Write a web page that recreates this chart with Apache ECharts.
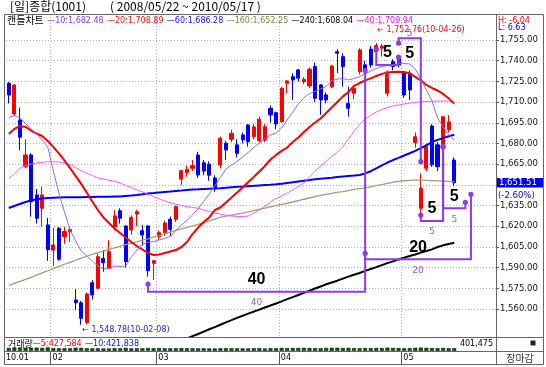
<!DOCTYPE html>
<html><head><meta charset="utf-8">
<script src="https://cdn.jsdelivr.net/npm/echarts@6/dist/echarts.min.js"></script>
<style>html,body{margin:0;padding:0;background:#fff}#c{width:546px;height:367px}</style>
</head><body><div id="c"></div>
<script>
const dates = ['2010-01-20','2010-01-21','2010-01-22','2010-01-25','2010-01-26','2010-01-27','2010-01-28','2010-01-29',
'2010-02-01','2010-02-02','2010-02-03','2010-02-04','2010-02-05','2010-02-08','2010-02-09','2010-02-10','2010-02-11','2010-02-12','2010-02-16','2010-02-17','2010-02-18','2010-02-19','2010-02-22','2010-02-23','2010-02-24','2010-02-25','2010-02-26',
'2010-03-02','2010-03-03','2010-03-04','2010-03-05','2010-03-08','2010-03-09','2010-03-10','2010-03-11','2010-03-12','2010-03-15','2010-03-16','2010-03-17','2010-03-18','2010-03-19','2010-03-22','2010-03-23','2010-03-24','2010-03-25','2010-03-26','2010-03-29','2010-03-30','2010-03-31',
'2010-04-01','2010-04-02','2010-04-05','2010-04-06','2010-04-07','2010-04-08','2010-04-09','2010-04-12','2010-04-13','2010-04-14','2010-04-15','2010-04-16','2010-04-19','2010-04-20','2010-04-21','2010-04-22','2010-04-23','2010-04-26','2010-04-27','2010-04-28','2010-04-29','2010-04-30',
'2010-05-03','2010-05-04','2010-05-06','2010-05-07','2010-05-10','2010-05-11','2010-05-12','2010-05-13','2010-05-14','2010-05-17'];
const futureDates = ['2010-05-18','2010-05-19','2010-05-20','2010-05-24','2010-05-25','2010-05-26','2010-05-27'];

const opens  = [1723.6,1701.4,1697.0,1663.2,1671.7,1642.7,1633.1,1621.0, 1602.7,1618.6,1612.5,1616.1,1566.6,1564.6,1550.2,1579.1,1575.1,1596.8,1589.6,1619.7,1631.3,1620.2,1617.3,1628.9,1616.8,1620.2,1593.2, 1612.5,1615.2,1625.1,1625.1,1654.1,1658.9,1662.0,1671.6,1666.0,1665.0,1655.0,1664.4,1680.2,1683.0,1679.0,1686.2,1693.4,1685.0,1682.0,1682.5,1705.5,1702.3, 1695.8,1723.6,1728.4,1733.3,1724.8,1721.7,1735.7,1722.4,1715.2,1721.2,1746.5,1742.9,1709.1,1716.4,1732.0,1737.0,1748.3,1746.5,1749.0,1716.4,1739.3,1742.9, 1730.9,1730.9,1680.6,1633.1,1662.0,1692.7,1679.0,1679.0,1690.0,1668.0];
const closes = [1715.1,1722.4,1684.5,1671.7,1637.8,1625.8,1642.7,1603.0, 1606.5,1596.1,1616.2,1617.8,1564.7,1553.3,1571.0,1570.2,1598.0,1593.6,1601.6,1627.5,1625.8,1594.4,1626.5,1630.6,1613.7,1587.8,1595.1, 1615.4,1622.4,1617.8,1634.2,1660.3,1661.3,1664.0,1657.2,1660.0,1657.0,1648.0,1683.8,1675.3,1687.4,1672.9,1682.6,1681.3,1692.0,1697.5,1692.2,1700.7,1694.1, 1720.0,1725.3,1726.0,1727.3,1726.5,1733.8,1712.8,1711.5,1711.5,1736.2,1745.4,1735.7,1705.5,1720.0,1747.8,1733.0,1736.9,1751.0,1750.5,1730.9,1735.7,1736.9, 1715.1,1718.8,1684.9,1647.6,1677.7,1664.5,1663.2,1699.4,1695.6,1651.51];
const lows   = [1709.0,1700.0,1675.0,1662.0,1627.0,1622.0,1619.7,1595.0, 1591.0,1595.0,1607.3,1608.6,1559.4,1548.78,1549.0,1567.0,1575.0,1587.1,1589.0,1617.0,1622.0,1590.0,1614.0,1620.0,1606.0,1583.5,1581.1, 1610.0,1613.0,1613.0,1623.0,1650.0,1656.0,1660.0,1655.0,1657.0,1653.0,1645.0,1662.0,1668.0,1681.0,1670.0,1680.0,1677.7,1683.0,1680.0,1681.0,1695.1,1690.3, 1695.0,1716.4,1711.5,1725.0,1723.0,1720.0,1710.0,1700.7,1709.0,1720.0,1730.9,1721.2,1699.4,1712.0,1730.0,1730.0,1735.0,1744.0,1743.0,1714.0,1733.0,1735.0, 1713.0,1711.5,1677.0,1628.2,1660.0,1663.0,1660.0,1677.7,1688.0,1649.0];
const highs  = [1724.5,1723.0,1706.0,1683.0,1673.0,1647.0,1648.7,1626.0, 1619.0,1619.5,1619.7,1619.7,1574.4,1566.0,1572.0,1581.0,1600.5,1602.8,1610.0,1631.8,1633.0,1621.0,1628.0,1632.0,1621.0,1620.9,1595.5, 1617.0,1624.0,1627.0,1635.0,1661.0,1664.0,1668.0,1674.0,1668.0,1667.0,1657.0,1685.0,1682.0,1690.0,1683.0,1688.0,1694.0,1694.0,1699.4,1694.0,1707.5,1703.0, 1721.0,1726.0,1730.9,1734.0,1728.0,1735.0,1738.6,1723.0,1717.0,1737.0,1748.3,1745.4,1721.2,1722.0,1749.0,1740.0,1750.7,1752.76,1752.0,1733.0,1741.0,1744.0, 1732.0,1733.0,1688.0,1658.4,1680.0,1694.0,1681.0,1700.0,1700.5,1670.0];

const ma10  = [1698.8,1700.3,1698.5,1694.5,1690.5,1686.9,1682.5,1677.5,1660.1,1644.1,1630.4,1617.3,1609.4,1602.1,1598.5,1594.9,1591.2,1589.1,1589.4,1591.2,1590.9,1591.2,1597.8,1602.8,1607.2,1608.3,1609.0,1610.1,1611.2,1612.6,1617.0,1620.9,1624.2,1628.2,1632.9,1638.0,1643.4,1649.2,1655.4,1661.5,1664.4,1667.0,1670.2,1673.5,1677.1,1680.4,1683.3,1686.2,1687.6,1691.2,1697.0,1702.8,1708.6,1713.0,1716.2,1717.7,1719.5,1721.3,1725.3,1726.7,1727.1,1726.0,1727.1,1728.4,1730.4,1732.5,1734.3,1735.8,1736.5,1737.2,1738.0,1738.0,1737.6,1734.0,1726.7,1718.8,1710.8,1698.5,1692.0,1686.5,1682.48];
const ma20  = [1686.9,1690.5,1692.7,1692.0,1689.4,1687.2,1685.4,1681.8,1677.5,1672.8,1667.7,1662.2,1656.5,1650.7,1644.5,1638.0,1631.8,1626.4,1622.4,1618.4,1615.1,1611.9,1608.6,1605.7,1603.2,1600.7,1599.2,1599.6,1600.7,1601.7,1602.8,1605.0,1608.6,1614.4,1619.1,1623.1,1626.4,1631.8,1633.6,1637.2,1640.9,1644.5,1648.1,1652.1,1655.7,1659.7,1663.7,1668.4,1671.7,1674.6,1677.1,1681.1,1684.3,1688.3,1692.0,1695.2,1698.1,1702.1,1706.1,1710.1,1714.1,1717.3,1721.7,1723.8,1725.7,1727.2,1728.9,1730.4,1731.5,1731.8,1732.0,1731.8,1730.7,1728.2,1725.7,1722.4,1720.2,1718.4,1715.9,1712.8,1708.89];
const ma40  = [1654.6,1657.9,1662.0,1664.1,1665.1,1665.9,1666.4,1666.7,1666.8,1666.6,1665.9,1664.8,1662.6,1660.3,1658.4,1656.8,1655.1,1654.3,1653.4,1652.6,1651.4,1649.7,1648.1,1646.5,1644.9,1643.2,1641.6,1639.9,1638.3,1637.1,1636.0,1635.0,1634.2,1633.6,1633.1,1631.8,1630.7,1629.8,1628.9,1628.0,1627.4,1627.2,1627.0,1627.5,1629.6,1631.8,1634.5,1637.4,1640.1,1642.0,1644.1,1646.3,1648.8,1651.4,1655.7,1659.9,1663.5,1667.1,1670.6,1673.5,1677.8,1683.3,1688.7,1693.8,1697.8,1700.3,1702.8,1704.6,1706.1,1707.2,1708.0,1708.6,1709.2,1709.7,1710.2,1710.4,1710.6,1710.7,1710.8,1710.7,1709.94];
const ma60  = [1633.3,1634.7,1636.2,1637.6,1638.7,1639.6,1640.1,1640.5,1640.7,1640.9,1641.0,1641.0,1641.0,1641.1,1641.2,1641.2,1641.4,1641.4,1641.4,1641.5,1641.6,1642.0,1642.3,1642.7,1643.2,1643.8,1644.1,1644.5,1644.9,1645.2,1645.6,1645.9,1646.3,1646.7,1646.8,1647.0,1647.2,1647.4,1647.6,1647.9,1648.3,1648.6,1648.8,1649.1,1649.3,1649.6,1649.9,1650.1,1650.4,1650.8,1651.4,1651.9,1652.5,1653.0,1653.5,1654.1,1654.5,1654.8,1655.1,1655.7,1656.1,1656.5,1656.8,1657.2,1658.3,1659.9,1661.9,1664.1,1666.2,1668.0,1669.6,1671.3,1672.9,1674.7,1676.7,1678.7,1681.0,1682.6,1683.9,1685.2,1686.28];
const ma160 = [1577.2,1578.7,1580.1,1581.5,1583.0,1584.6,1586.2,1587.8,1589.3,1590.9,1592.5,1593.9,1595.4,1597.0,1598.3,1599.6,1600.9,1602.1,1603.3,1604.4,1605.5,1606.7,1607.8,1608.8,1609.9,1610.9,1612.1,1613.3,1614.6,1615.7,1617.0,1618.2,1619.3,1620.3,1621.4,1622.7,1623.9,1625.2,1626.5,1627.3,1628.0,1628.8,1629.6,1630.5,1631.4,1632.3,1633.2,1634.1,1635.0,1635.9,1636.7,1637.6,1638.6,1639.6,1640.5,1641.5,1642.4,1643.2,1643.9,1644.5,1645.1,1645.9,1646.7,1647.3,1647.8,1648.6,1649.4,1650.2,1651.1,1651.9,1652.6,1653.0,1653.3,1653.4,1653.4,1653.3,1653.1,1652.9,1652.7,1652.5,1652.25];
const ma240 = [1485.7,1487.4,1489.1,1490.7,1492.4,1494.1,1495.7,1497.3,1499.0,1500.7,1502.3,1504.0,1505.6,1507.2,1508.9,1510.6,1512.2,1513.9,1515.6,1517.2,1518.8,1520.5,1522.2,1523.8,1525.5,1527.1,1528.8,1530.4,1532.1,1533.8,1535.4,1537.0,1538.7,1540.4,1542.0,1543.7,1545.4,1547.0,1548.7,1550.4,1552.0,1553.7,1555.2,1556.7,1558.2,1559.6,1561.2,1562.6,1564.1,1565.6,1567.2,1568.7,1570.2,1571.8,1573.3,1574.9,1576.4,1578.0,1579.3,1580.6,1582.1,1583.5,1584.9,1586.2,1587.7,1589.1,1590.4,1591.9,1593.3,1594.6,1596.0,1597.2,1598.5,1599.6,1600.9,1602.1,1603.3,1605.0,1606.2,1607.2,1608.04];

const volumes = [452000,498000,512000,468000,476000,489000,455000,521000, 433000,398000,412000,405000,478000,463000,401000,388000,395000,372000,366000,418000,392000,455000,376000,389000,402000,441000,398000, 425000,398000,387000,405000,431000,412000,396000,388000,402000,377000,369000,410000,421000,398000,392000,388000,375000,402000,418000,365000,401000,412000, 452000,425000,436000,448000,462000,431000,419000,402000,445000,468000,472000,438000,455000,421000,410000,432000,428000,447000,435000,489000,452000,430000, 408000,412000,467000,498000,462000,431000,418000,440000,398000,401475];

const yTicks = [1560,1575,1590,1605,1620,1635,1650,1665,1680,1695,1710,1725,1740,1755];
const yTickLabels = [1560,1575,1590,1605,1620,1635,1665,1680,1695,1710,1725,1740,1755];
const monthLabels = ['10.01','02','03','04','05'];

// period-count brackets: start index, end index, start-dot value, bracket line value, end-dot value, count
const bracketFrom  = [25, 64, 66, 70, 74, 78];
const bracketTo    = [64, 83, 70, 74, 78, 82];
const bracketStart = [1578.2, 1600.4, 1748.3, 1752.6, 1628.2, 1677.7];
const bracketLine  = [1572.6, 1596.1, 1736.9, 1756.2, 1623.8, 1633.0];
const bracketEnd   = [1732.8, 1643.2, 1742.5, 1666.8, 1677.7, 1637.4];
const bracketCount = [40, 20, 5, 5, 5, 5];

const volMA5 = '427,584', volMA10 = '421,838', lastVolume = '401,475';
const changePct = '(-2.60%)', hiTxt = 'H: -6.04', loTxt = 'L: 6.63';

const cats = dates.concat(futureDates);
const monthStarts = [0];
for (let i = 1; i < dates.length; i++) if (dates[i].slice(5,7) !== dates[i-1].slice(5,7)) monthStarts.push(i);
const fmt = v => v.toLocaleString('en-US',{minimumFractionDigits:2,maximumFractionDigits:2});
const NUM = '"DejaVu Sans"';
const KR = '"Noto Sans CJK KR"';

const chart = echarts.init(document.getElementById('c'), null, {renderer:'canvas'});
const dotted = {color:'#b4b4b4', type:[1,2], width:1};

const option = {
  animation:false,
  textStyle:{fontFamily:'DejaVu Sans'},
  grid:[{left:6,right:50,top:14,height:323},{left:6,right:50,top:340,height:11}],
  xAxis:[
    {type:'category', data:cats, gridIndex:0, boundaryGap:true,
     axisLine:{show:false}, axisTick:{show:false}, axisLabel:{show:false},
     splitLine:{show:true, interval:(i)=> i>0 && monthStarts.includes(i), lineStyle:dotted}},
    {type:'category', data:cats, gridIndex:1, boundaryGap:true,
     axisLine:{show:true, lineStyle:{color:'#555'}},
     axisTick:{show:true, interval:(i)=> i>0 && monthStarts.includes(i), length:13, lineStyle:{color:'#555'}},
     axisLabel:{show:false}, splitLine:{show:false}}
  ],
  yAxis:[
    {type:'value', gridIndex:0, position:'right', min:1539.8, max:1773.8, scale:true,
     axisLine:{show:false},
     axisTick:{show:true, customValues:yTicks, length:3, lineStyle:{color:'#555'}},
     axisLabel:{show:true, customValues:yTickLabels, formatter:(v)=>fmt(v), margin:4, fontSize:8.5, color:'#111', fontFamily:'DejaVu Sans'},
     splitLine:{show:true, lineStyle:dotted}},
    {type:'value', gridIndex:1, min:0, max:1600000, show:false}
  ],
  series:[
    {type:'candlestick', xAxisIndex:0, yAxisIndex:0, barWidth:3.6, z:2,
     data: dates.map((d,i)=>[opens[i], closes[i], lows[i], highs[i]]),
     itemStyle:{color:'#ff0000', color0:'#0000ff', borderColor:'#ff0000', borderColor0:'#0000ff', borderWidth:1}},
    {type:'line', data:ma240, symbol:'none', lineStyle:{color:'#000000', width:2}, z:3, silent:true},
    {type:'line', data:ma160, symbol:'none', lineStyle:{color:'#a09f7c', width:1.3}, z:3, silent:true},
    {type:'line', data:ma60, symbol:'none', lineStyle:{color:'#0000ff', width:2}, z:3, silent:true},
    {type:'line', data:ma40, symbol:'none', lineStyle:{color:'#ff55ff', width:1}, z:3, silent:true},
    {type:'line', data:ma20, symbol:'none', lineStyle:{color:'#ff0000', width:2}, z:3, silent:true},
    {type:'line', data:ma10, symbol:'none', lineStyle:{color:'#9966ff', width:1}, z:3, silent:true},
    {type:'bar', xAxisIndex:1, yAxisIndex:1, data:volumes, barWidth:4,
     itemStyle:{color:'#006400', borderColor:'#000', borderWidth:0.5}, silent:true},
    {type:'custom', xAxisIndex:0, yAxisIndex:0, z:10, silent:true,
     encode:{x:0, y:3},
     data: bracketFrom.map((f,i)=>[f, bracketTo[i], bracketStart[i], bracketLine[i], bracketEnd[i], bracketCount[i]]),
     renderItem:(params, api)=>{
       const f=api.value(0), t=api.value(1), v0=api.value(2), vl=api.value(3), v1=api.value(4), n=api.value(5);
       const p0=api.coord([f,v0]), a=api.coord([f,vl]), b=api.coord([t,vl]), p1=api.coord([t,v1]);
       const below = vl < Math.min(v0,v1);
       const xm=(a[0]+b[0])/2;
       const col='#8a3ce6';
       return {type:'group', children:[
         {type:'polyline', shape:{points:[p0,a,b,p1]}, style:{stroke:col, lineWidth:2, fill:null}},
         {type:'circle', shape:{cx:p0[0], cy:p0[1], r:2.6}, style:{fill:col}},
         {type:'circle', shape:{cx:p1[0], cy:p1[1], r:2.6}, style:{fill:col}},
         {type:'text', x:xm, y: below ? a[1]-12 : a[1]+15, style:{text:String(n), fill:'#000', font:'bold 16px "Liberation Sans"', align:'center', verticalAlign:'middle', textAlign:'center', textVerticalAlign:'middle'}},
         {type:'text', x:xm, y: below ? a[1]+11 : a[1]-5, style:{text:String(n), fill:'#9955ee', font:'9px "DejaVu Sans"', align:'center', verticalAlign:'middle', textAlign:'center', textVerticalAlign:'middle'}}
       ]};
     }}
  ]
};
chart.setOption(option);

const px = (i,v)=> chart.convertToPixel({gridIndex:0},[i,v]);
const band = px(1,1600)[0]-px(0,1600)[0];
const last = dates.length-1;
const T = (x,y,text,fill,font,align)=>({type:'text', x, y, z:70, style:{text, fill, font, align:align||'left', verticalAlign:'middle', textAlign:align||'left', textVerticalAlign:'middle'}});
const L = (x1,y1,x2,y2,c)=>({type:'line', z:60, shape:{x1,y1,x2,y2}, style:{stroke:c||'#666', lineWidth:1}});

const g = [];
g.push({type:'rect', z:60, shape:{x:4.5,y:14.5,width:539,height:350}, style:{fill:null, stroke:'#666', lineWidth:1}});
g.push(L(4.5,337.5,543.5,337.5));
g.push(L(4.5,351.5,543.5,351.5));
g.push(L(496.5,14.5,496.5,364.5));
// title
g.push(T(10,6,'[일]종합(1001)','#000','12px '+KR));
g.push(T(110,6,'( 2008/05/22 ~ 2010/05/17 )','#000','12px '+KR));
// legend
const legColors = {a:'#8040ff', b:'#ff1010', c:'#1010ff', d:'#80803f', e:'#000000', f:'#ff10ff'};
const rich = {k:{font:'10px '+KR, fill:'#000'}};
Object.keys(legColors).forEach(k=> rich[k] = {font:'8px '+NUM, fill:legColors[k]});
const legText = '{k|캔들차트} {a|—10:'+fmt(ma10[last])+'} {b|—20:'+fmt(ma20[last])+'} {c|—60:'+fmt(ma60[last])+'} {d|—160:'+fmt(ma160[last])+'} {e|—240:'+fmt(ma240[last])+'} {f|—40:'+fmt(ma40[last])+'}';
g.push({type:'text', x:7, y:20.5, z:70, style:{text:legText, rich, verticalAlign:'middle', textVerticalAlign:'middle'}});
// H / L
g.push(T(498,20.5,hiTxt,'#ff0000','8px '+NUM));
g.push(T(498,27.5,loTxt,'#0000ff','8px '+NUM));
// current price box
const cy = px(last, closes[last])[1];
g.push({type:'rect', z:65, shape:{x:497,y:cy-4.8,width:46,height:9.6}, style:{fill:'#0000ff'}});
g.push(T(499,cy,fmt(closes[last]),'#ffffff','8.5px '+NUM));
g.push(T(498,cy+13,changePct,'#0000ff','8.5px '+NUM));
// high / low annotations
const hiIdx = highs.indexOf(Math.max(...highs)), loIdx = lows.indexOf(Math.min(...lows));
const ph = px(hiIdx, highs[hiIdx]), pl = px(loIdx, lows[loIdx]);
const dstr = s => s.slice(2);
g.push(T(ph[0]+1, ph[1]-13, '← '+fmt(highs[hiIdx])+'('+dstr(dates[hiIdx])+')', '#ff0000', '8px '+NUM));
g.push(T(pl[0]+1, pl[1]+5, '← '+fmt(lows[loIdx])+'('+dstr(dates[loIdx])+')', '#2020ff', '8px '+NUM));
// volume panel texts
g.push({type:'text', x:8, y:344, z:70, style:{text:'{k|거래량}{r|—5:'+volMA5+'} {b|—10:'+volMA10+'}', rich:{k:{font:'9px '+KR, fill:'#000'}, r:{font:'8px '+NUM, fill:'#ff0000'}, b:{font:'8px '+NUM, fill:'#1010ff'}}, verticalAlign:'middle', textVerticalAlign:'middle'}});
g.push(T(493,343.5,lastVolume,'#000','8px '+NUM,'right'));
g.push({type:'rect', z:65, shape:{x:530.5,y:340.5,width:5,height:5}, style:{fill:'#222'}});
// month labels
monthStarts.forEach((s,k)=>{
  const x = s===0 ? 6 : px(s,1600)[0]-band/2+2;
  g.push(T(x,358,monthLabels[k],'#000','8px '+NUM));
});
g.push(T(520,358.5,'장마감','#333','10px '+KR,'center'));
chart.setOption({graphic:g});
</script></body></html>
